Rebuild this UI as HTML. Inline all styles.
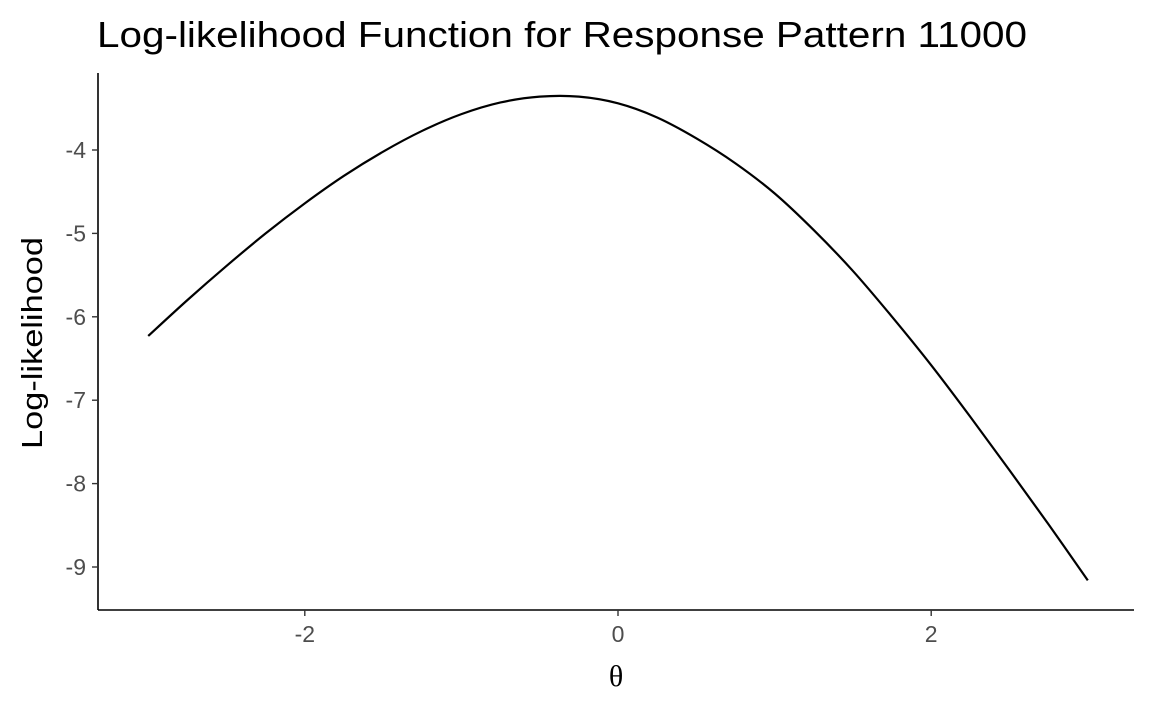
<!DOCTYPE html>
<html><head><meta charset="utf-8"><style>
body{margin:0;background:#fff;}
svg{display:block;font-family:"Liberation Sans",Arial,sans-serif;}
</style></head><body>
<svg id="chart" width="1152" height="711">
<text x="97" y="47" font-size="36" textLength="930" lengthAdjust="spacingAndGlyphs" fill="#000">Log-likelihood Function for Response Pattern 11000</text>
<g id="axes"></g>
<path id="curve" fill="none" stroke="#000" stroke-width="2.2"></path>
<text x="616" y="686" font-size="30" text-anchor="middle" font-family="'Liberation Serif',serif">θ</text>
<text transform="translate(42,343) rotate(-90)" font-size="29" text-anchor="middle" textLength="212" lengthAdjust="spacingAndGlyphs">Log-likelihood</text>
</svg>
<script>
const thetaValues = [-3,-2.75,-2.5,-2.25,-2,-1.75,-1.5,-1.25,-1,-0.75,-0.5,-0.25,0,0.25,0.5,0.75,1,1.25,1.5,1.75,2,2.25,2.5,2.75,3];
const llValues = [-6.23,-5.80,-5.39,-5.00,-4.64,-4.31,-4.02,-3.77,-3.57,-3.43,-3.36,-3.36,-3.44,-3.61,-3.86,-4.16,-4.52,-4.96,-5.45,-6.00,-6.58,-7.20,-7.84,-8.49,-9.16];
const xTicks = [-2,0,2];
const xTickLabels = ["-2","0","2"];
const yTicks = [-4,-5,-6,-7,-8,-9];
const yTickLabels = ["-4","-5","-6","-7","-8","-9"];

const NS = "http://www.w3.org/2000/svg";
function xs(t){return 618 + t*156.6;}
function ys(v){return 150 + (-4 - v)*83.4;}
const axes = document.getElementById('axes');
function mk(tag, attrs){const e=document.createElementNS(NS,tag);for(const k in attrs)e.setAttribute(k,attrs[k]);return e;}

const xl = mk('line',{x1:98,y1:610,x2:1134,y2:610,stroke:'#000','stroke-width':1.6});


axes.appendChild(xl);
const yl = mk('line',{x1:98,y1:73,x2:98,y2:610,stroke:'#000','stroke-width':1.6});


axes.appendChild(yl);

xTicks.forEach((t,i)=>{
  const x=xs(t);
  const tk=mk('line',{x1:x,y1:610,x2:x,y2:616,stroke:'#333','stroke-width':1.4});
  
  
  axes.appendChild(tk);
  const lb=mk('text',{x:x,y:642,'font-size':23,'text-anchor':'middle',fill:'#4d4d4d'});
  lb.textContent=xTickLabels[i];
  
  
  axes.appendChild(lb);
});
yTicks.forEach((v,i)=>{
  const y=ys(v);
  const tk=mk('line',{x1:92,y1:y,x2:98,y2:y,stroke:'#333','stroke-width':1.4});
  
  
  axes.appendChild(tk);
  const lb=mk('text',{x:86,y:y+8,'font-size':23,'text-anchor':'end',fill:'#4d4d4d'});
  lb.textContent=yTickLabels[i];
  
  
  axes.appendChild(lb);
});

const pts = thetaValues.map((t,i)=>[xs(t),ys(llValues[i])]);
let d = 'M'+pts[0][0]+','+pts[0][1];
for(let i=0;i<pts.length-1;i++){
  const p0=pts[Math.max(0,i-1)],p1=pts[i],p2=pts[i+1],p3=pts[Math.min(pts.length-1,i+2)];
  const c1=[p1[0]+(p2[0]-p0[0])/6,p1[1]+(p2[1]-p0[1])/6];
  const c2=[p2[0]-(p3[0]-p1[0])/6,p2[1]-(p3[1]-p1[1])/6];
  d+=' C'+c1[0]+','+c1[1]+' '+c2[0]+','+c2[1]+' '+p2[0]+','+p2[1];
}
document.getElementById('curve').setAttribute('d',d);
</script>
</body></html>
